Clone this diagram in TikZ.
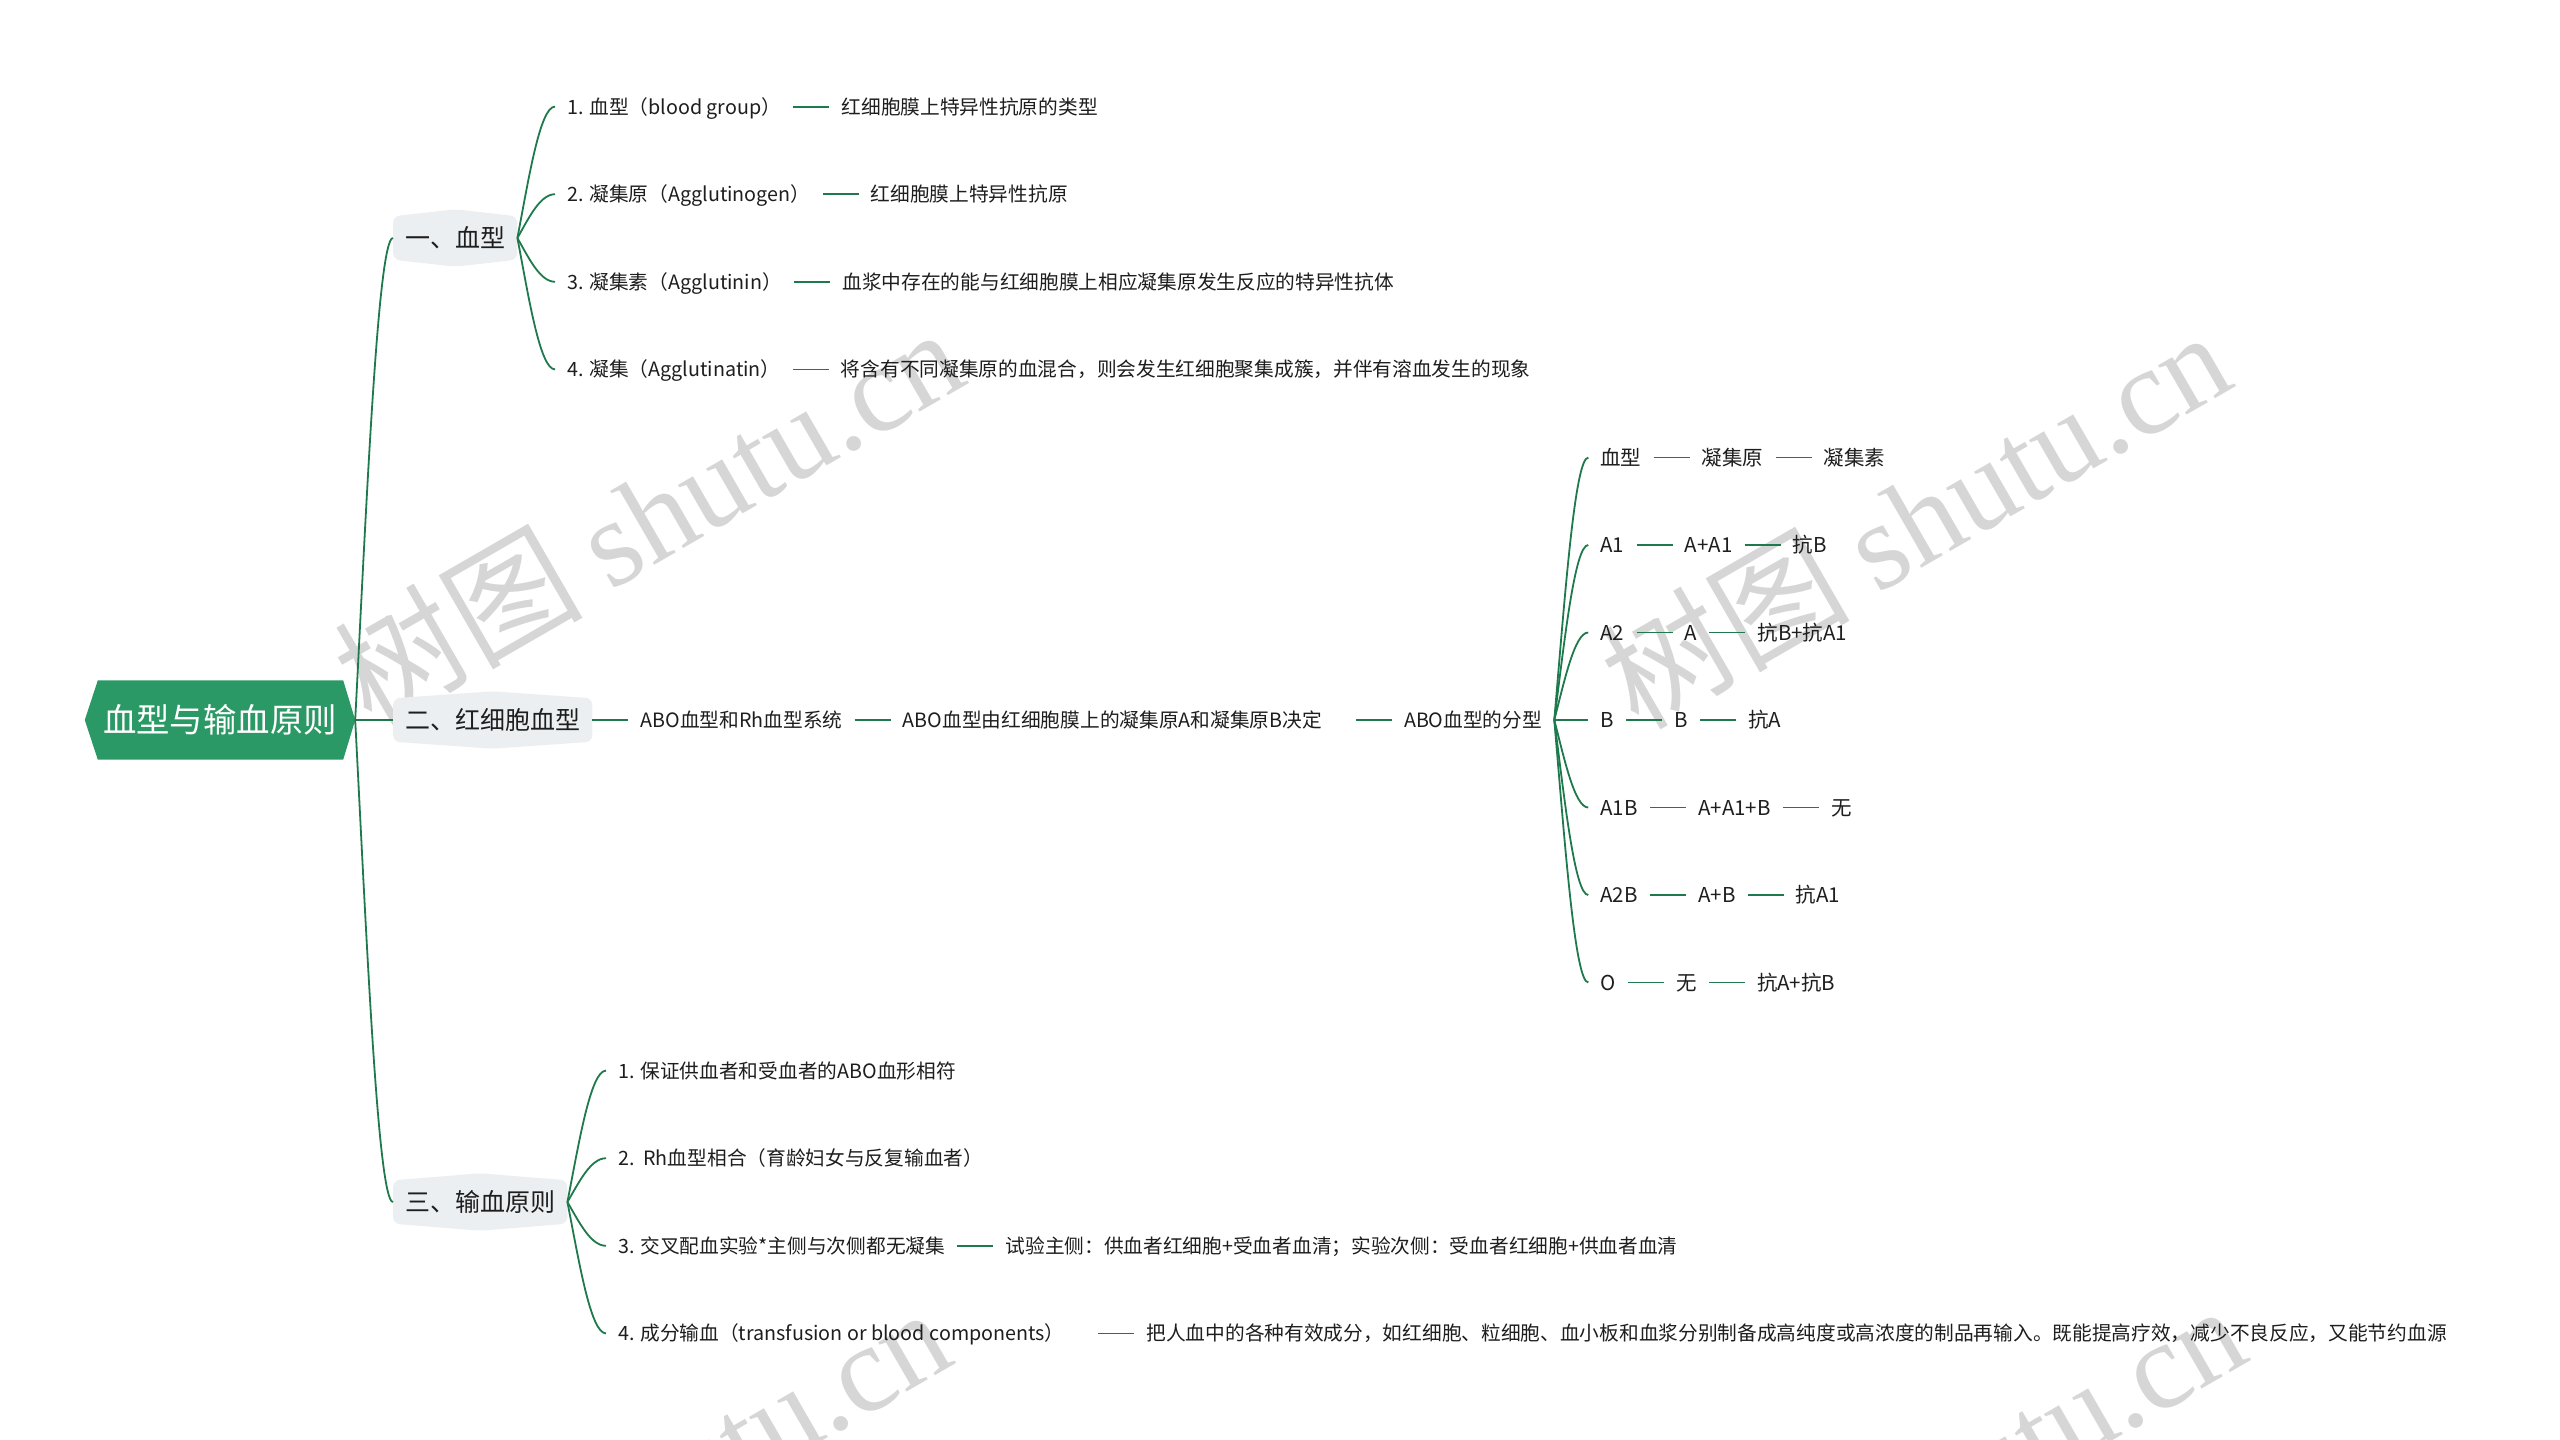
\documentclass[tikz,border=0pt]{standalone}
\usepackage{fontspec}
\setmainfont{Noto Sans CJK SC}
\newfontfamily\wmlatin{Liberation Serif}
\usetikzlibrary{positioning,calc}
\pgfdeclarelayer{paper}
\pgfdeclarelayer{back}
\pgfsetlayers{paper,back,main}
\definecolor{rootc}{RGB}{43,153,101}
\definecolor{lc}{RGB}{30,122,76}
\definecolor{l1c}{RGB}{236,239,242}
\definecolor{txt}{RGB}{30,30,30}
\definecolor{wmc}{RGB}{214,214,214}
\begin{document}
\begin{tikzpicture}[x=1pt,y=-1pt,
  leaf/.style={font=\fontsize{19.7}{24}\selectfont, text=txt, inner xsep=12pt, inner ysep=0pt, text height=17pt, text depth=2pt, anchor=west},
  sub/.style={leaf, font=\fontsize{20.5}{25}\selectfont, text height=17.6pt, text depth=2.1pt},
  lvlone/.style={font=\fontsize{25}{30}\selectfont, text=txt, inner xsep=12pt, inner ysep=0pt, minimum height=43pt, text height=21.5pt, text depth=2.5pt, anchor=west},
  rootnode/.style={font=\fontsize{33.4}{40}\selectfont, text=white, inner sep=0pt, minimum width=270pt, minimum height=79pt, text height=28.7pt, text depth=3.3pt},
  link/.style={draw=lc, line width=1.8pt},
  branch/.style={link, to path={let \p1=(\tikztostart), \p2=(\tikztotarget) in .. controls ({\x1+0.3*(\x2-\x1)},{\y1+0.45*(\y2-\y1)}) and ({\x1+0.6*(\x2-\x1)},{\y2}) .. (\tikztotarget)}},
  wm/.style={font=\fontsize{124}{134}\selectfont, text=wmc, rotate=30, inner sep=0pt}
]
\useasboundingbox (0,0) rectangle (2560,1440);

\begin{pgfonlayer}{paper}
  \fill[white] (0,0) rectangle (2560,1440);
  \node[wm] (w1) at (648,515) {树图 {\wmlatin shutu.cn}};
  \node[wm] (w2) at (1915,518) {树图 {\wmlatin shutu.cn}};
  \node[wm] (w3) at (635,1495) {树图 {\wmlatin shutu.cn}};
  \node[wm] (w4) at (1930,1492) {树图 {\wmlatin shutu.cn}};
\end{pgfonlayer}

% root and first level
\node[rootnode] (root) at (220,720) {血型与输血原则};
\node[lvlone] (b1) at (393,238) {一、血型};
\node[lvlone] (b2) at (393,720) {二、红细胞血型};
\node[lvlone] (b3) at (393,1202) {三、输血原则};

\begin{pgfonlayer}{back}
  \fill[rootc] (root.west) -- ([xshift=13pt]root.north west) -- ([xshift=-12pt]root.north east) -- (root.east) -- ([xshift=-12pt]root.south east) -- ([xshift=13pt]root.south west) -- cycle;
  \fill[l1c, rounded corners=7pt] (b1.west) -- (b1.north west) -- ([yshift=7pt]b1.north) -- (b1.north east) -- (b1.south east) -- ([yshift=-7pt]b1.south) -- (b1.south west) -- cycle;
  \fill[l1c, rounded corners=7pt] (b2.west) -- (b2.north west) -- ([yshift=7pt]b2.north) -- (b2.north east) -- (b2.south east) -- ([yshift=-7pt]b2.south) -- (b2.south west) -- cycle;
  \fill[l1c, rounded corners=7pt] (b3.west) -- (b3.north west) -- ([yshift=7pt]b3.north) -- (b3.north east) -- (b3.south east) -- ([yshift=-7pt]b3.south) -- (b3.south west) -- cycle;
\end{pgfonlayer}

\draw[branch] (root.east) to (b1.west);
\draw[link] (root.east) -- (b2.west);
\draw[branch] (root.east) to (b3.west);

% branch one
\node[leaf] (c1) at (555,106.6) {1. 血型（blood group）};
\node[leaf, right=36pt of c1] (c1a) {红细胞膜上特异性抗原的类型};
\node[leaf] (c2) at (555,194.2) {2. 凝集原（Agglutinogen）};
\node[leaf, right=36pt of c2] (c2a) {红细胞膜上特异性抗原};
\node[leaf] (c3) at (555,281.8) {3. 凝集素（Agglutinin）};
\node[leaf, right=36pt of c3] (c3a) {血浆中存在的能与红细胞膜上相应凝集原发生反应的特异性抗体};
\node[leaf] (c4) at (555,369.4) {4. 凝集（Agglutinatin）};
\node[leaf, right=36pt of c4] (c4a) {将含有不同凝集原的血混合，则会发生红细胞聚集成簇，并伴有溶血发生的现象};
\draw[branch] (b1.east) to (c1.west);
\draw[branch] (b1.east) to (c2.west);
\draw[branch] (b1.east) to (c3.west);
\draw[branch] (b1.east) to (c4.west);
\draw[link] (c1.east) -- (c1a.west);
\draw[link] (c2.east) -- (c2a.west);
\draw[link] (c3.east) -- (c3a.west);
\draw[link] (c4.east) -- (c4a.west);

% branch two
\node[leaf, right=36pt of b2] (d1) {ABO血型和Rh血型系统};
\node[leaf, right=36pt of d1] (d2) {ABO血型由红细胞膜上的凝集原A和凝集原B决定\hspace{1.1em}\null};
\node[leaf, right=36pt of d2] (d3) {ABO血型的分型};
\draw[link] (b2.east) -- (d1.west);
\draw[link] (d1.east) -- (d2.west);
\draw[link] (d2.east) -- (d3.west);
\coordinate (sx) at ([xshift=34pt]d3.east);

\node[sub] (s1) at ([yshift=262.5pt]sx) {血型};
\node[sub, right=36pt of s1] (s1b) {凝集原};
\node[sub, right=36pt of s1b] (s1c) {凝集素};
\node[sub] (s2) at ([yshift=175pt]sx) {A1};
\node[sub, right=36pt of s2] (s2b) {A+A1};
\node[sub, right=36pt of s2b] (s2c) {抗B};
\node[sub] (s3) at ([yshift=87.5pt]sx) {A2};
\node[sub, right=36pt of s3] (s3b) {A};
\node[sub, right=36pt of s3b] (s3c) {抗B+抗A1};
\node[sub] (s4) at (sx) {B};
\node[sub, right=36pt of s4] (s4b) {B};
\node[sub, right=36pt of s4b] (s4c) {抗A};
\node[sub] (s5) at ([yshift=-87.5pt]sx) {A1B};
\node[sub, right=36pt of s5] (s5b) {A+A1+B};
\node[sub, right=36pt of s5b] (s5c) {无};
\node[sub] (s6) at ([yshift=-175pt]sx) {A2B};
\node[sub, right=36pt of s6] (s6b) {A+B};
\node[sub, right=36pt of s6b] (s6c) {抗A1};
\node[sub] (s7) at ([yshift=-262.5pt]sx) {O};
\node[sub, right=36pt of s7] (s7b) {无};
\node[sub, right=36pt of s7b] (s7c) {抗A+抗B};

\draw[branch] (d3.east) to (s1.west);
\draw[branch] (d3.east) to (s2.west);
\draw[branch] (d3.east) to (s3.west);
\draw[link] (d3.east) -- (s4.west);
\draw[branch] (d3.east) to (s5.west);
\draw[branch] (d3.east) to (s6.west);
\draw[branch] (d3.east) to (s7.west);
\draw[link] (s1.east) -- (s1b.west);  \draw[link] (s1b.east) -- (s1c.west);
\draw[link] (s2.east) -- (s2b.west);  \draw[link] (s2b.east) -- (s2c.west);
\draw[link] (s3.east) -- (s3b.west);  \draw[link] (s3b.east) -- (s3c.west);
\draw[link] (s4.east) -- (s4b.west);  \draw[link] (s4b.east) -- (s4c.west);
\draw[link] (s5.east) -- (s5b.west);  \draw[link] (s5b.east) -- (s5c.west);
\draw[link] (s6.east) -- (s6b.west);  \draw[link] (s6b.east) -- (s6c.west);
\draw[link] (s7.east) -- (s7b.west);  \draw[link] (s7b.east) -- (s7c.west);

% branch three
\node[leaf] (e1) at (606,1070.6) {1. 保证供血者和受血者的ABO血形相符};
\node[leaf] (e2) at (606,1158.2) {2.\ \ Rh血型相合（育龄妇女与反复输血者）};
\node[leaf] (e3) at (606,1245.8) {3. 交叉配血实验*主侧与次侧都无凝集};
\node[leaf, right=36pt of e3] (e3a) {试验主侧：供血者红细胞+受血者血清；实验次侧：受血者红细胞+供血者血清};
\node[leaf] (e4) at (606,1333.4) {4. 成分输血（transfusion or blood components）\hspace{1.1em}\null};
\node[leaf, right=36pt of e4] (e4a) {把人血中的各种有效成分，如红细胞、粒细胞、血小板和血浆分别制备成高纯度或高浓度的制品再输入。既能提高疗效，减少不良反应，又能节约血源};
\draw[branch] (b3.east) to (e1.west);
\draw[branch] (b3.east) to (e2.west);
\draw[branch] (b3.east) to (e3.west);
\draw[branch] (b3.east) to (e4.west);
\draw[link] (e3.east) -- (e3a.west);
\draw[link] (e4.east) -- (e4a.west);
\end{tikzpicture}
\end{document}
